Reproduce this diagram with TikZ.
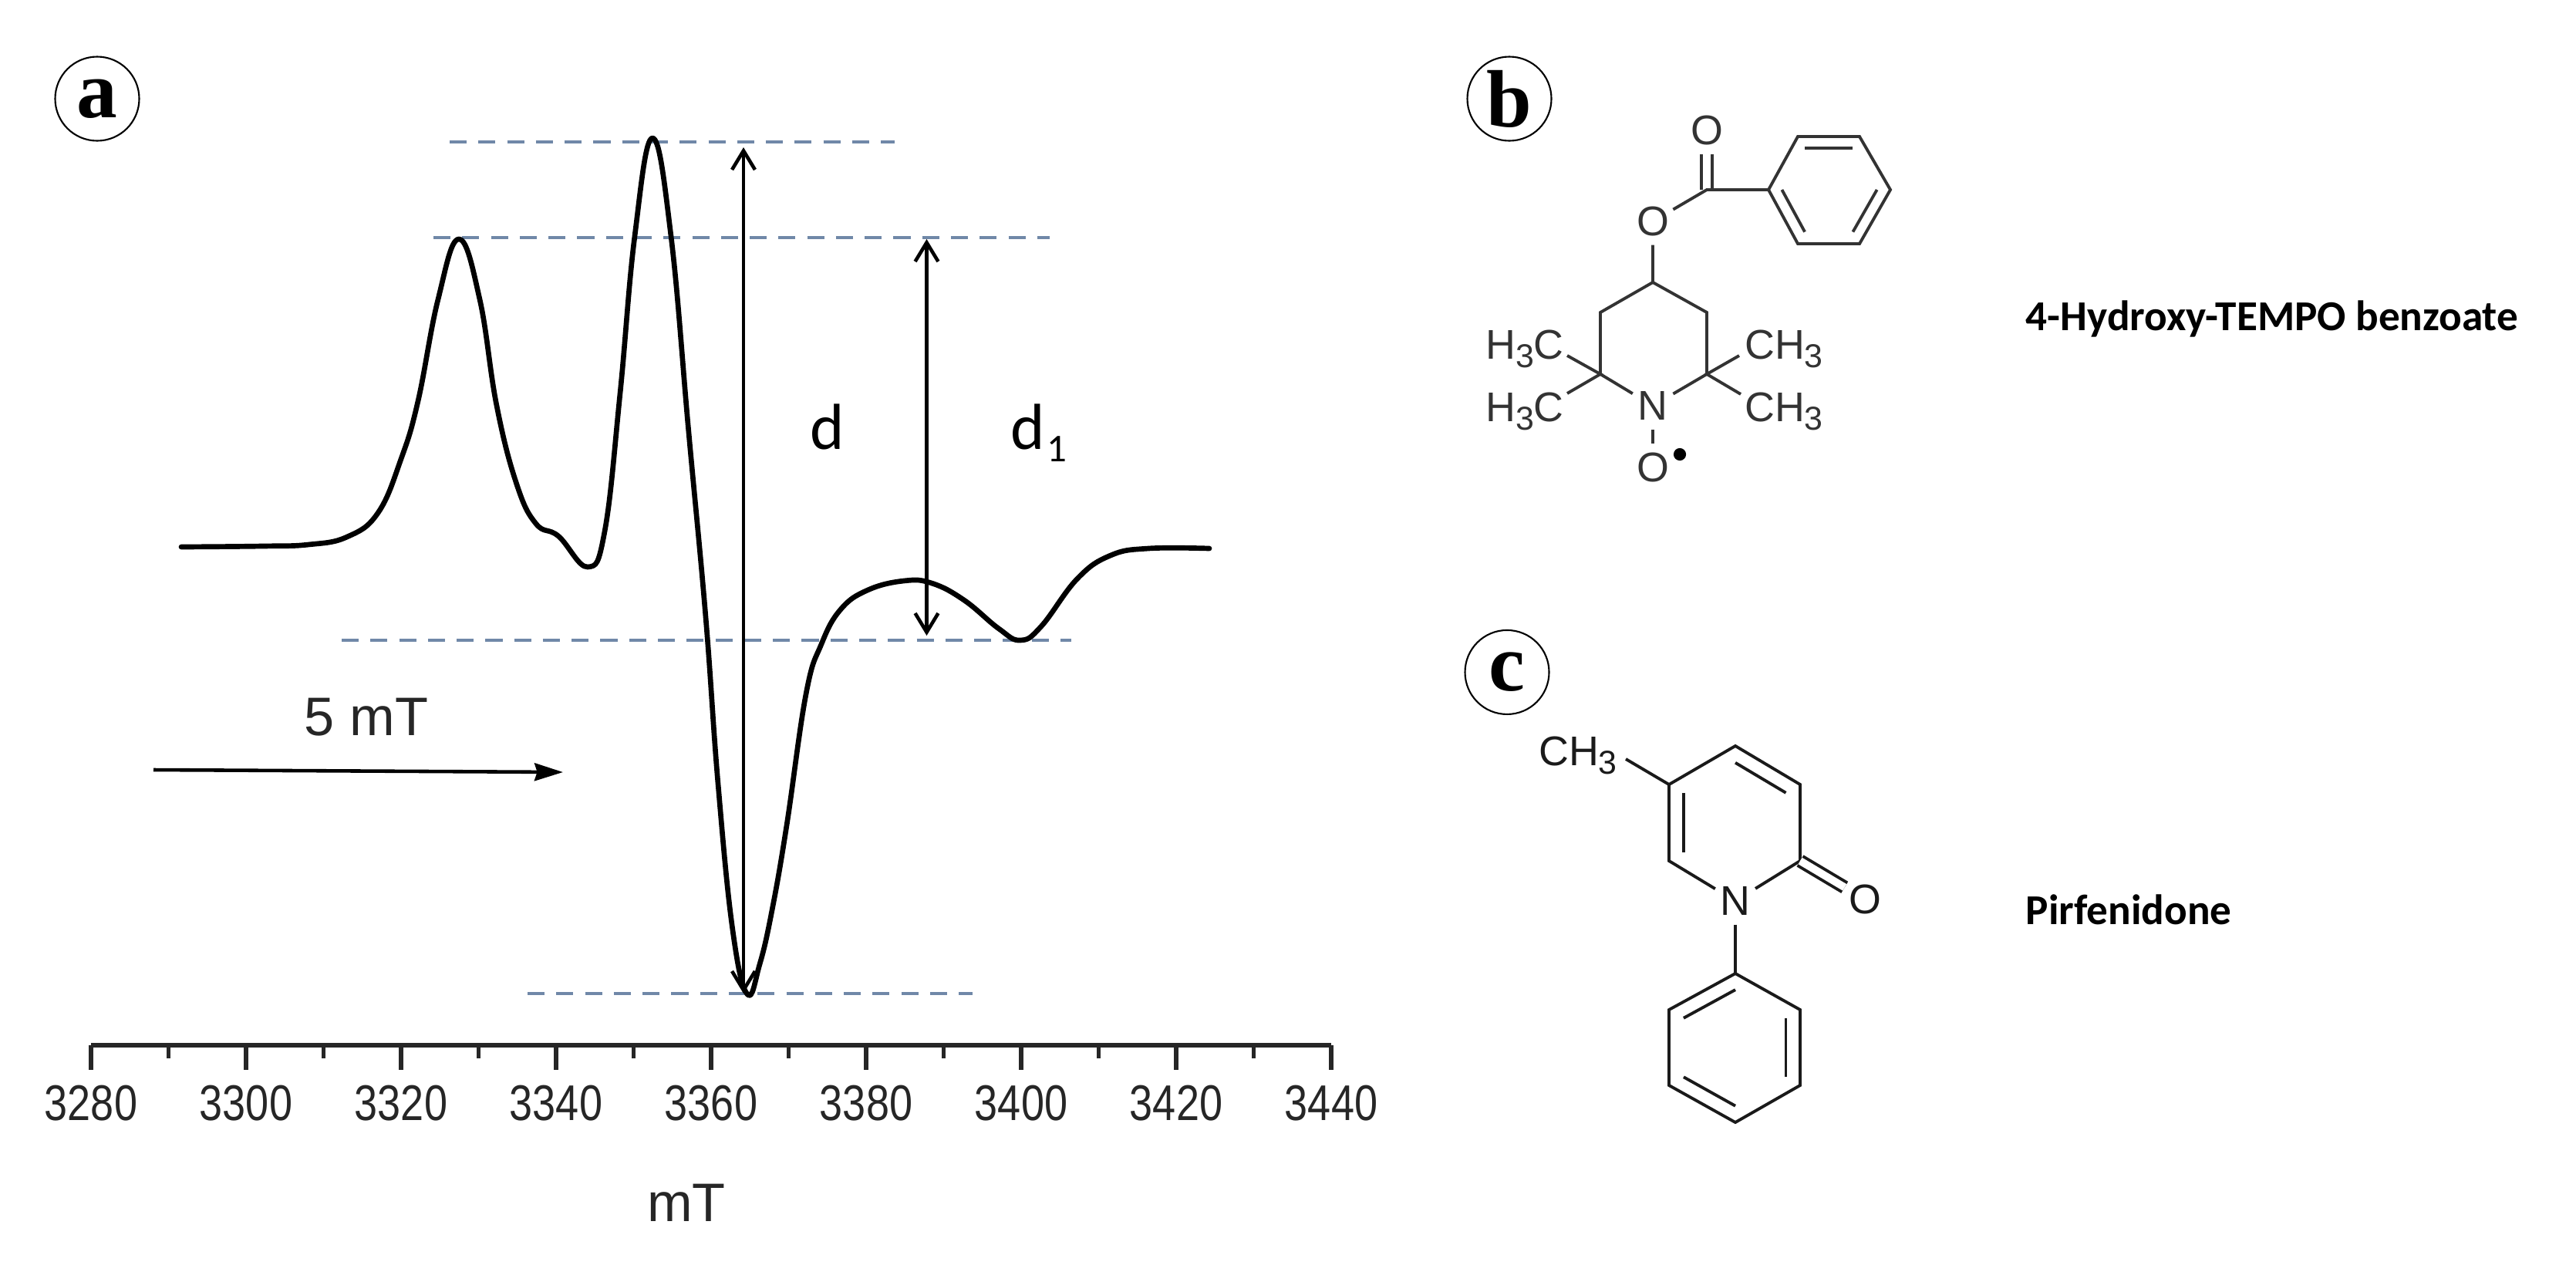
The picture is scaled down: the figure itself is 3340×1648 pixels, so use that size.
\documentclass[tikz,border=0pt]{standalone}
\usepackage{fontspec}
\setmainfont{Liberation Sans}
\newfontfamily\tagfont{Liberation Serif}
\newfontfamily\namefont{Carlito}
\usetikzlibrary{arrows.meta,calc}
\definecolor{dashblue}{HTML}{7088A8}
\definecolor{bondb}{HTML}{333333}
\definecolor{bondc}{HTML}{1A1A1A}
\newcommand{\sbt}[1]{\raisebox{-3.4pt}{\fontsize{12.2}{12}\selectfont #1}}
\newcommand{\inbond}[3]{\draw[bond] ($(#1)!0.22!(#3)$) -- ($(#2)!0.22!(#3)$);}
\tikzstyle{level}=[draw=dashblue,line width=1.2pt,dash pattern=on 6.3pt off 4.3pt]
\tikzstyle{spectrum}=[line width=1.9pt,line join=round,line cap=round]
\tikzstyle{span}=[line width=1.3pt,{Straight Barb[length=7pt,width=8.5pt]}-{Straight Barb[length=7pt,width=8.5pt]}]
\tikzstyle{field}=[line width=1.3pt,-{Stealth[length=10.5pt,width=6.5pt,inset=1pt]}]
\tikzstyle{axis}=[line width=1.5pt,draw=black!85]
\tikzstyle{ticklab}=[font=\fontsize{18.5}{20}\selectfont,xscale=0.83,transform shape,text=black!85]
\tikzstyle{textlab}=[font=\fontsize{20}{24}\selectfont,text=black!85]
\tikzstyle{dlab}=[font=\namefont\fontsize{24}{28}\selectfont,anchor=base west,inner sep=0pt]
\tikzstyle{tag}=[circle,draw,line width=0.6pt,minimum size=31pt,inner sep=0pt,font=\tagfont\bfseries\fontsize{30}{30}\selectfont]
\tikzstyle{bond}=[line width=1.1pt]
\tikzstyle{dbond}=[line width=1.1pt,double,double distance=2.8pt]
\tikzstyle{atom}=[circle,minimum size=17pt,inner sep=0pt,font=\fontsize{15.3}{18}\selectfont]
\tikzstyle{group}=[inner sep=0pt,font=\fontsize{15.3}{18}\selectfont]
\tikzstyle{compound}=[anchor=base west,inner sep=0pt,font=\namefont\bfseries\fontsize{15.7}{19}\selectfont]

\begin{document}
\begin{tikzpicture}[x=0.01cm,y=-0.01cm]
    \useasboundingbox (0,0) rectangle (3340,1648);
    \node[tag] (taga) at (126,128) {a};
    \node[tag] (tagb) at (1957,128) {b};
    \node[tag, below of=tagb, node distance=7.43cm, xshift=-0.03cm] (tagc) {c};

    \draw[level] (583,184) -- (1160,184);
    \draw[level] (562,308) -- (1361,308);
    \draw[level] (443,830) -- (1389,830);
    \draw[level] (684,1288) -- (1261,1288);

    \draw[spectrum] plot[smooth,tension=0.7] coordinates {(235,709) (340,708) (400,706) (450,696) (490,665) (520,595) (542,520) (568,388) (595,310) (622,388) (644,526) (670,628) (695,679) (724,695) (762,735) (784,689) (804,510) (823,306) (846,179) (870,306) (893,561) (915,800) (931,1016) (950,1206) (969,1289) (985,1250) (1001,1180) (1020,1070) (1045,900) (1065,835) (1090,790) (1125,765) (1172,753) (1208,756) (1250,778) (1295,815) (1323,830) (1350,812) (1397,750) (1440,720) (1489,711) (1568,711)};

    \coordinate (dtop) at (964,191);
    \coordinate (dbot) at (964,1288);
    \coordinate (donetop) at (1201.5,310);
    \coordinate (donebot) at (1201.5,824);
    \draw[span] (dbot) -- (dtop);
    \draw[span] (donebot) -- (donetop);
    \node[dlab] (dlabel) at (1050,582) {d};
    \node[dlab] (donelabel) at (1310,582) {d\kern0.8pt\raisebox{-4.8pt}{\fontsize{14.5}{15}\selectfont 1}};

    \coordinate (fieldstart) at (199,998);
    \coordinate (fieldend) at (730,1001);
    \draw[field] (fieldstart) -- (fieldend);
    \node[textlab] (fieldlab) at (475,930) {5 mT};

    \coordinate (axisl) at (118,1355);
    \coordinate (axisr) at (1726,1355);
    \draw[axis] (axisl) -- (axisr);
    \foreach \v [count=\i from 0] in {3280,3300,3320,3340,3360,3380,3400,3420,3440} {
        \draw[axis] ({118+201*\i},1355) -- ({118+201*\i},1387);
        \node[ticklab] (tick\v) at ({118+201*\i},1430) {\v};
    }
    \foreach \i in {0,...,7} {
        \draw[axis] ({218.5+201*\i},1355) -- ({218.5+201*\i},1372);
    }
    \node[textlab] (axislab) at (890,1559) {mT};

    \begin{scope}[draw=bondb,text=bondb]
    \node[atom] (co) at (2213,169) {O};
    \coordinate (cc) at (2213,246);
    \node[atom] (eo) at (2143,287) {O};
    \coordinate (c4) at (2143,366);
    \coordinate (c3) at (2075,405);
    \coordinate (c5) at (2213,405);
    \coordinate (c2) at (2075,485);
    \coordinate (c6) at (2213,485);
    \node[atom] (nb) at (2143,526) {N};
    \node[atom, below of=nb, node distance=0.8cm] (ob) {O};
    \node[circle,fill=black,inner sep=0pt,minimum size=4.6pt] (radical) at (2178,589) {};
    \coordinate (p1) at (2293,246);
    \coordinate (p2) at (2331,177);
    \coordinate (p3) at (2411,177);
    \coordinate (p4) at (2451,246);
    \coordinate (p5) at (2411,316);
    \coordinate (p6) at (2331,316);
    \coordinate (pc) at (2372,246);
    \node[group,anchor=base] (ha) at (1977,465) {H\sbt{3}C};
    \node[group,anchor=base] (hb) at (1977,546) {H\sbt{3}C};
    \node[group,anchor=base] (ma) at (2313,465) {CH\sbt{3}};
    \node[group,anchor=base] (mb) at (2313,546) {CH\sbt{3}};
    \coordinate (hae) at (2032,461);
    \coordinate (hbe) at (2032,510);
    \coordinate (mae) at (2255,461);
    \coordinate (mbe) at (2257,511);
    \draw[dbond] (co) -- (cc);
    \draw[bond] (eo) -- (cc) -- (p1);
    \draw[bond] (p1) -- (p2) -- (p3) -- (p4) -- (p5) -- (p6) -- cycle;
    \draw[bond] (eo) -- (c4) -- (c3) -- (c2) -- (nb);
    \draw[bond] (c4) -- (c5) -- (c6) -- (nb);
    \draw[bond] (nb) -- (ob);
    \draw[bond] (hae) -- (c2) -- (hbe);
    \draw[bond] (mae) -- (c6) -- (mbe);
    \inbond{p2}{p3}{pc}
    \inbond{p4}{p5}{pc}
    \inbond{p6}{p1}{pc}
    \end{scope}

    \begin{scope}[draw=bondc,text=bondc]
    \coordinate (r1) at (2164,1017);
    \coordinate (r2) at (2250,967);
    \coordinate (r3) at (2334,1017);
    \coordinate (r4) at (2334,1116);
    \node[atom] (nc) at (2250,1168) {N};
    \coordinate (r6) at (2164,1116);
    \coordinate (rc) at (2250,1066);
    \node[atom] (oc) at (2418,1166) {O};
    \node[group,anchor=base] (mc) at (2046,992) {CH\sbt{3}};
    \coordinate (mce) at (2108,984);
    \coordinate (q1) at (2250,1262);
    \coordinate (q2) at (2334,1309);
    \coordinate (q3) at (2334,1407);
    \coordinate (q4) at (2250,1455);
    \coordinate (q5) at (2164,1407);
    \coordinate (q6) at (2164,1309);
    \coordinate (qc) at (2250,1358);
    \draw[bond] (mce) -- (r1) -- (r2) -- (r3) -- (r4) -- (nc) -- (r6) -- (r1);
    \draw[dbond] (r4) -- (oc);
    \draw[bond] (nc) -- (q1);
    \draw[bond] (q1) -- (q2) -- (q3) -- (q4) -- (q5) -- (q6) -- cycle;
    \inbond{r1}{r6}{rc}
    \inbond{r2}{r3}{rc}
    \inbond{q6}{q1}{qc}
    \inbond{q2}{q3}{qc}
    \inbond{q5}{q4}{qc}
    \end{scope}

    \node[compound] (nameb) at (2626,428) {4-Hydroxy-TEMPO benzoate};
    \node[compound] (namec) at (2626,1198) {Pirfenidone};
\end{tikzpicture}
\end{document}
